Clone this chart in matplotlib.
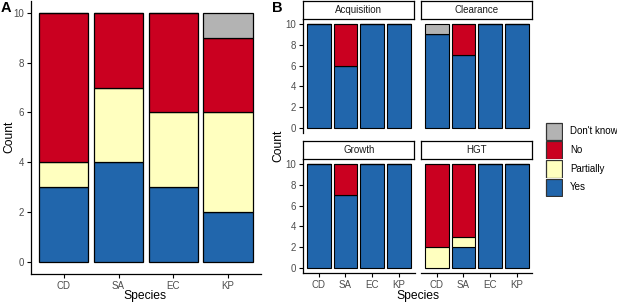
import matplotlib
matplotlib.use("Agg")
import matplotlib.pyplot as plt
import numpy as np
from matplotlib.patches import Rectangle

plt.rcParams['font.family'] = ['Liberation Sans', 'DejaVu Sans']

species = ["CD", "SA", "EC", "KP"]
responses = ["Yes", "Partially", "No", "Don't know"]
colors = {"Yes": "#2166AC", "Partially": "#FFFFBF", "No": "#CA0020", "Don't know": "#B3B3B3"}

# Panel A counts
a_yes = [3, 4, 3, 2]
a_partially = [1, 3, 3, 4]
a_no = [6, 3, 4, 3]
a_dontknow = [0, 0, 0, 1]

# Panel B facets
facets = ["Acquisition", "Clearance", "Growth", "HGT"]
b_yes = {"Acquisition": [10, 6, 10, 10], "Clearance": [9, 7, 10, 10],
         "Growth": [10, 7, 10, 10], "HGT": [0, 2, 10, 10]}
b_partially = {"Acquisition": [0, 0, 0, 0], "Clearance": [0, 0, 0, 0],
               "Growth": [0, 0, 0, 0], "HGT": [2, 1, 0, 0]}
b_no = {"Acquisition": [0, 4, 0, 0], "Clearance": [0, 3, 0, 0],
        "Growth": [0, 3, 0, 0], "HGT": [8, 7, 0, 0]}
b_dontknow = {"Acquisition": [0, 0, 0, 0], "Clearance": [1, 0, 0, 0],
              "Growth": [0, 0, 0, 0], "HGT": [0, 0, 0, 0]}

W, H = 617, 303
fig = plt.figure(figsize=(W / 100, H / 100), dpi=100)

def fr(x0, y0, x1, y1):
    # pixel box (top-left origin) -> figure fraction rect
    return [x0 / W, (H - y1) / H, (x1 - x0) / W, (y1 - y0) / H]

tick_col = "#4D4D4D"
TFS = 7
LFS = 8.7

def stack(ax, series, lw=0.9):
    x = np.arange(1, 5)
    bottom = np.zeros(4)
    for name, vals in series:
        vals = np.array(vals, dtype=float)
        ax.bar(x, vals, width=0.9, bottom=bottom, color=colors[name],
               edgecolor="black", linewidth=lw)
        bottom += vals

def style(ax, left=True, bottom=True, fs=TFS):
    ax.set_xlim(0.4, 4.6)
    ax.set_ylim(-0.5, 10.5)
    for s in ["top", "right"]:
        ax.spines[s].set_visible(False)
    ax.spines["left"].set_visible(left)
    ax.spines["bottom"].set_visible(bottom)
    for s in ["left", "bottom"]:
        ax.spines[s].set_linewidth(0.9)
    ax.set_yticks([0, 2, 4, 6, 8, 10])
    ax.set_xticks([1, 2, 3, 4])
    ax.tick_params(axis="both", colors="black", labelcolor=tick_col,
                   labelsize=fs, length=3, width=0.8, pad=2)
    if left:
        ax.set_yticklabels([0, 2, 4, 6, 8, 10])
    else:
        ax.tick_params(axis="y", left=False, labelleft=False)
    if bottom:
        ax.set_xticklabels(species)
    else:
        ax.tick_params(axis="x", bottom=False, labelbottom=False)

# Panel A
axA = fig.add_axes(fr(31, 0.5, 260.8, 274))
stack(axA, [("Yes", a_yes), ("Partially", a_partially), ("No", a_no), ("Don't know", a_dontknow)])
style(axA)
fig.text(9 / W, 1 - 137 / H, "Count", rotation=90, fontsize=LFS, ha="center", va="center")
fig.text(145 / W, 1 - 296 / H, "Species", fontsize=LFS, ha="center", va="center")
fig.text(1 / W, 1 - 8 / H, "A", fontsize=10.5, fontweight="bold", va="center", ha="left")

# Panel B
boxes = {"Acquisition": (303, 18.8, 414.5, 133.2), "Clearance": (421, 18.8, 532.5, 133.2),
         "Growth": (303, 158.8, 414.5, 273.2), "HGT": (421, 158.8, 532.5, 273.2)}
for i, f in enumerate(facets):
    x0, y0, x1, y1 = boxes[f]
    ax = fig.add_axes(fr(x0, y0, x1, y1))
    stack(ax, [("Yes", b_yes[f]), ("Partially", b_partially[f]), ("No", b_no[f]),
               ("Don't know", b_dontknow[f])], lw=0.8)
    style(ax, left=(i % 2 == 0), bottom=(i >= 2))
    # strip
    sax = fig.add_axes(fr(x0, y0 - 18, x1, y0))
    sax.set_xticks([]); sax.set_yticks([])
    for s in sax.spines.values():
        s.set_linewidth(0.9)
    sax.text(0.5, 0.5, f, ha="center", va="center", fontsize=7, color="#1A1A1A",
             transform=sax.transAxes)

fig.text(278 / W, 1 - 146 / H, "Count", rotation=90, fontsize=LFS, ha="center", va="center")
fig.text(418 / W, 1 - 296 / H, "Species", fontsize=LFS, ha="center", va="center")
fig.text(272 / W, 1 - 8 / H, "B", fontsize=10.5, fontweight="bold", va="center", ha="left")

# Legend
leg_items = ["Don't know", "No", "Partially", "Yes"]
for j, name in enumerate(leg_items):
    ky = 122 + j * 18.7
    kax = fig.add_axes(fr(545, ky, 563, ky + 18.7))
    kax.add_patch(Rectangle((0.04, 0.03), 0.92, 0.94, facecolor=colors[name],
                            edgecolor="#333333", linewidth=0.9, transform=kax.transAxes))
    kax.axis("off")
    fig.text(570 / W, 1 - (ky + 9.3) / H, name, fontsize=7, va="center", ha="left")

fig.savefig("out.png", dpi=100)
